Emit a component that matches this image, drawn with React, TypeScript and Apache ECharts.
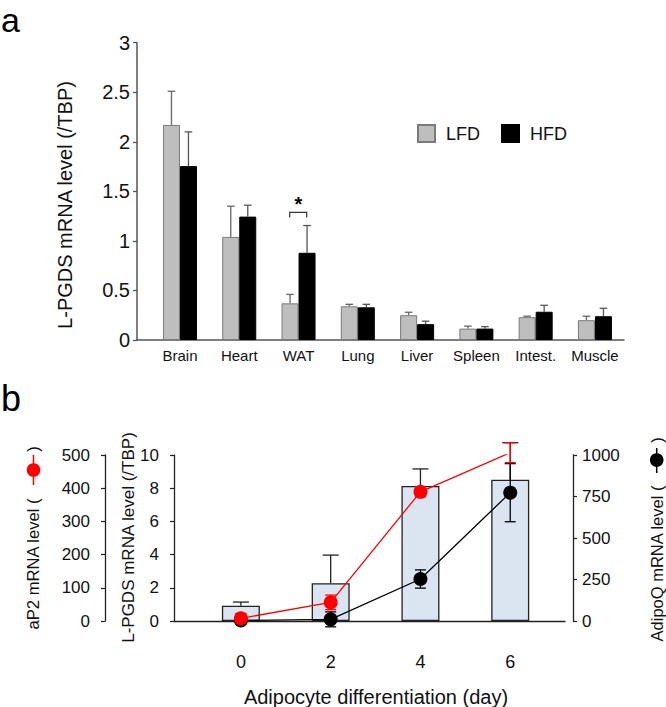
import React, { useEffect, useRef } from 'react';
import * as echarts from 'echarts';

// ---------- Panel a data ----------
const CATEGORIES = ['Brain', 'Heart', 'WAT', 'Lung', 'Liver', 'Spleen', 'Intest.', 'Muscle'];
const LFD = [2.17, 1.04, 0.37, 0.34, 0.25, 0.115, 0.23, 0.2];
const LFD_UPPER = [2.51, 1.35, 0.46, 0.36, 0.28, 0.14, 0.24, 0.24];
const HFD = [1.755, 1.245, 0.88, 0.33, 0.16, 0.115, 0.285, 0.24];
const HFD_UPPER = [2.1, 1.36, 1.155, 0.36, 0.19, 0.135, 0.35, 0.32];
const A_Y_TICKS = [0, 0.5, 1, 1.5, 2, 2.5, 3];

// ---------- Panel b data ----------
const DAYS = [0, 2, 4, 6];
const LPGDS = [0.92, 2.27, 8.13, 8.51];
const LPGDS_UPPER = [1.14, 3.97, 9.16, 10.74];
const AP2 = [8, 56, 389, 507];
const AP2_ERR = [14, 22, 15, 30];
const ADIPOQ = [3, 10, 253, 773];
const ADIPOQ_ERR = [10, 45, 55, 175];

const FONT_NAME = '"Liberation Sans", Arial, Helvetica, sans-serif';

function errorRender(offsetPx: number, capHalf: number, color: string, width: number, bottomCap: boolean) {
  return (params: any, api: any) => {
    const x = api.value(0);
    const p1 = api.coord([x, api.value(1)]);
    const p2 = api.coord([x, api.value(2)]);
    const cx = p1[0] + offsetPx;
    const style = { stroke: color, lineWidth: width, fill: 'none' };
    const children: any[] = [
      { type: 'line', shape: { x1: cx, y1: p1[1], x2: cx, y2: p2[1] }, style },
      { type: 'line', shape: { x1: cx - capHalf, y1: p2[1], x2: cx + capHalf, y2: p2[1] }, style },
    ];
    if (bottomCap) {
      children.push({ type: 'line', shape: { x1: cx - capHalf, y1: p1[1], x2: cx + capHalf, y2: p1[1] }, style });
    }
    return { type: 'group', children };
  };
}

function txt(text: string, x: number, y: number, fontSize: number, opts: any = {}) {
  const weight = opts.bold ? 'bold ' : '';
  return {
    type: 'text',
    x,
    y,
    rotation: opts.rotation || 0,
    silent: true,
    style: {
      text,
      font: `${weight}${fontSize}px ${FONT_NAME}`,
      fontSize,
      fontFamily: FONT_NAME,
      fontWeight: opts.bold ? 'bold' : 'normal',
      fill: opts.color || '#111',
      textAlign: opts.align || 'center',
      textVerticalAlign: 'middle',
    },
  };
}

export default function App() {
  const ref = useRef<HTMLDivElement>(null);

  useEffect(() => {
    if (!ref.current) return;
    const chart = echarts.init(ref.current, null, { renderer: 'svg' });

    const axisGray = '#555';
    const axisBlack = '#222';
    const FONT = FONT_NAME;

    const option: any = {
      animation: false,
      backgroundColor: '#fff',
      textStyle: { fontFamily: FONT },
      grid: [
        { left: 137, right: 42, top: 42.7, bottom: 367 },
        { left: 174, right: 101, top: 455, bottom: 86 },
      ],
      legend: {
        data: ['LFD', 'HFD'],
        left: 417,
        top: 124,
        padding: 0,
        icon: 'rect',
        itemWidth: 17,
        itemHeight: 17,
        itemGap: 21,
        textStyle: { fontSize: 18, fontFamily: FONT, color: '#111', padding: [0, 0, 0, 6] },
      },
      xAxis: [
        {
          type: 'value',
          gridIndex: 0,
          min: -0.725,
          max: 7.49,
          splitLine: { show: false },
          axisLine: { onZero: false, lineStyle: { color: axisGray, width: 1.5 } },
          axisTick: { show: false },
          axisLabel: {
            customValues: CATEGORIES.map((_, i) => i),
            formatter: (v: number) => CATEGORIES[Math.round(v)] ?? '',
            fontSize: 15,
            color: '#111',
            margin: 8,
            fontFamily: FONT,
          },
        },
        {
          type: 'value',
          gridIndex: 1,
          min: -1.49,
          max: 7.22,
          splitLine: { show: false },
          axisLine: { onZero: false, lineStyle: { color: axisBlack, width: 1.3 } },
          axisTick: { show: false },
          axisLabel: {
            customValues: DAYS,
            formatter: (v: number) => String(v),
            fontSize: 18,
            color: '#111',
            margin: 32,
            fontFamily: FONT,
          },
        },
      ],
      yAxis: [
        {
          type: 'value',
          gridIndex: 0,
          min: 0,
          max: 3,
          interval: 0.5,
          splitLine: { show: false },
          axisLine: { show: true, onZero: false, lineStyle: { color: axisGray, width: 1.5 } },
          axisTick: { show: true, length: 4, lineStyle: { color: axisGray, width: 1.3 } },
          axisLabel: {
            fontSize: 20,
            color: '#111',
            margin: 7,
            fontFamily: FONT,
            formatter: (v: number) => String(A_Y_TICKS.find((t) => Math.abs(t - v) < 1e-6) ?? v),
          },
        },
        {
          type: 'value',
          gridIndex: 1,
          position: 'left',
          min: 0,
          max: 10,
          interval: 2,
          splitLine: { show: false },
          axisLine: { show: true, onZero: false, lineStyle: { color: axisBlack, width: 1.3 } },
          axisTick: { show: true, length: 4, lineStyle: { color: axisBlack, width: 1.2 } },
          axisLabel: { fontSize: 17, color: '#111', margin: 15, fontFamily: FONT, formatter: (v: number) => String(v) },
        },
        {
          type: 'value',
          gridIndex: 1,
          position: 'left',
          offset: 69,
          min: 0,
          max: 500,
          interval: 100,
          splitLine: { show: false },
          axisLine: { show: true, onZero: false, lineStyle: { color: axisBlack, width: 1.3 } },
          axisTick: { show: true, length: 4, lineStyle: { color: axisBlack, width: 1.2 } },
          axisLabel: { fontSize: 17, color: '#111', margin: 15, fontFamily: FONT, formatter: (v: number) => String(v) },
        },
        {
          type: 'value',
          gridIndex: 1,
          position: 'right',
          offset: 8,
          min: 0,
          max: 1000,
          interval: 250,
          splitLine: { show: false },
          axisLine: { show: true, onZero: false, lineStyle: { color: axisBlack, width: 1.3 } },
          axisTick: { show: true, length: 4, lineStyle: { color: axisBlack, width: 1.2 } },
          axisLabel: { fontSize: 17, color: '#111', margin: 9, fontFamily: FONT, formatter: (v: number) => String(v) },
        },
      ],
      series: [
        {
          type: 'bar',
          name: 'LFD',
          xAxisIndex: 0,
          yAxisIndex: 0,
          data: LFD.map((v, i) => [i, v]),
          barWidth: 17,
          barGap: '0%',
          itemStyle: { color: '#bebebe', borderColor: '#7a7a7a', borderWidth: 1 },
          z: 2,
        },
        {
          type: 'bar',
          name: 'HFD',
          xAxisIndex: 0,
          yAxisIndex: 0,
          data: HFD.map((v, i) => [i, v]),
          barWidth: 17,
          barGap: '0%',
          itemStyle: { color: '#000000', borderColor: '#000', borderWidth: 1 },
          z: 2,
        },
        {
          type: 'custom',
          name: 'LFD err',
          xAxisIndex: 0,
          yAxisIndex: 0,
          silent: true,
          renderItem: errorRender(-8.5, 3.8, '#666', 1.3, false),
          data: LFD.map((v, i) => [i, v, LFD_UPPER[i]]),
          encode: { x: 0, y: [1, 2] },
          z: 1,
        },
        {
          type: 'custom',
          name: 'HFD err',
          xAxisIndex: 0,
          yAxisIndex: 0,
          silent: true,
          renderItem: errorRender(8.5, 3.8, '#555', 1.3, false),
          data: HFD.map((v, i) => [i, v, HFD_UPPER[i]]),
          encode: { x: 0, y: [1, 2] },
          z: 1,
        },
        // Panel b
        {
          type: 'bar',
          name: 'L-PGDS',
          xAxisIndex: 1,
          yAxisIndex: 1,
          data: DAYS.map((d, i) => [d, LPGDS[i]]),
          barWidth: 38,
          itemStyle: { color: '#dbe5f1', borderColor: '#222', borderWidth: 1.3 },
          z: 2,
        },
        {
          type: 'custom',
          name: 'L-PGDS err',
          xAxisIndex: 1,
          yAxisIndex: 1,
          silent: true,
          renderItem: errorRender(0, 8, '#222', 1.3, false),
          data: DAYS.map((d, i) => [d, LPGDS[i], LPGDS_UPPER[i]]),
          encode: { x: 0, y: [1, 2] },
          z: 1,
        },
        {
          type: 'custom',
          name: 'AdipoQ err',
          xAxisIndex: 1,
          yAxisIndex: 3,
          silent: true,
          renderItem: errorRender(0, 5.5, '#000', 1.3, true),
          data: DAYS.map((d, i) => [d, ADIPOQ[i] - ADIPOQ_ERR[i], ADIPOQ[i] + ADIPOQ_ERR[i]]),
          encode: { x: 0, y: [1, 2] },
          z: 3,
        },
        {
          type: 'line',
          name: 'AdipoQ',
          xAxisIndex: 1,
          yAxisIndex: 3,
          data: DAYS.map((d, i) => [d, ADIPOQ[i]]),
          symbol: 'circle',
          symbolSize: 14,
          itemStyle: { color: '#000' },
          lineStyle: { color: '#000', width: 1.3 },
          z: 4,
        },
        {
          type: 'custom',
          name: 'aP2 err',
          xAxisIndex: 1,
          yAxisIndex: 2,
          silent: true,
          renderItem: errorRender(0, 5.5, '#ff0000', 1.3, true),
          data: DAYS.map((d, i) => [d, AP2[i] - AP2_ERR[i], AP2[i] + AP2_ERR[i]]),
          encode: { x: 0, y: [1, 2] },
          z: 5,
        },
        {
          type: 'line',
          name: 'aP2',
          xAxisIndex: 1,
          yAxisIndex: 2,
          data: DAYS.map((d, i) => [d, AP2[i]]),
          symbol: 'circle',
          symbolSize: 14,
          itemStyle: { color: '#ff0000' },
          lineStyle: { color: '#ff0000', width: 1.3 },
          z: 6,
        },
      ],
      graphic: [
        txt('a', 1, 20, 34, { align: 'left', color: '#000' }),
        txt('b', 1, 398, 36, { align: 'left', color: '#000' }),
        txt('L-PGDS mRNA level (/TBP)', 65, 205, 20, { rotation: Math.PI / 2 }),
        {
          type: 'polyline',
          silent: true,
          shape: { points: [[289.7, 217.5], [289.7, 212.3], [306.7, 212.3], [306.7, 217.5]] },
          style: { stroke: '#333', lineWidth: 1.2, fill: 'none' },
        },
        txt('*', 298.3, 204, 20, { bold: true, color: '#000' }),
        // Panel b names
        txt('L-PGDS mRNA level (/TBP)', 128.3, 537.5, 17, { rotation: Math.PI / 2 }),
        txt('aP2 mRNA level (', 33.5, 564, 16.6, { rotation: Math.PI / 2 }),
        txt(')', 33.5, 449, 16.6, { rotation: Math.PI / 2 }),
        {
          type: 'line',
          silent: true,
          shape: { x1: 33.5, y1: 455, x2: 33.5, y2: 485 },
          style: { stroke: '#ff0000', lineWidth: 1.5 },
        },
        {
          type: 'circle',
          silent: true,
          shape: { cx: 33.5, cy: 470, r: 6.8 },
          style: { fill: '#ff0000' },
        },
        txt('AdipoQ mRNA level (', 656.7, 563.5, 16.5, { rotation: Math.PI / 2 }),
        txt(')', 656.7, 440, 16.5, { rotation: Math.PI / 2 }),
        {
          type: 'line',
          silent: true,
          shape: { x1: 656.7, y1: 448, x2: 656.7, y2: 473 },
          style: { stroke: '#000', lineWidth: 1.5 },
        },
        {
          type: 'circle',
          silent: true,
          shape: { cx: 656.7, cy: 460, r: 6.8 },
          style: { fill: '#000' },
        },
        txt('Adipocyte differentiation (day)', 376, 697, 20),
      ],
    };

    chart.setOption(option);
    return () => {
      chart.dispose();
    };
  }, []);

  return (
    <div
      ref={ref}
      style={{ position: 'absolute', left: 0, top: 0, width: 666, height: 707, background: '#fff' }}
    />
  );
}
